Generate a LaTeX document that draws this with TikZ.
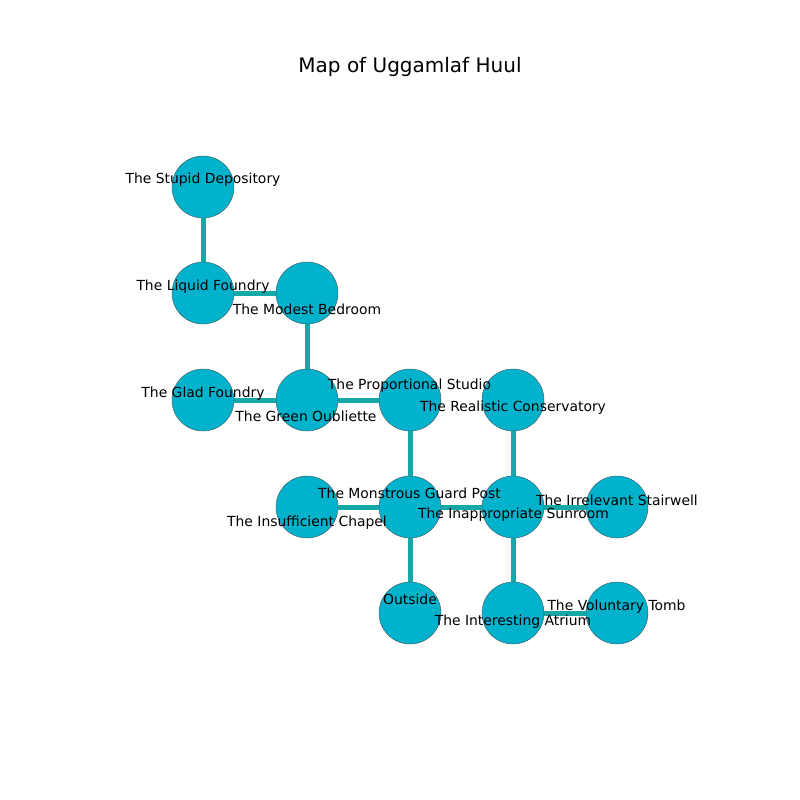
\documentclass[tikz,border=0pt]{standalone}
\usepackage{fontspec}
\setmainfont{DejaVu Sans}
\usetikzlibrary{backgrounds}
\definecolor{roomfill}{RGB}{0,178,204}
\definecolor{roomedge}{RGB}{70,100,110}
\definecolor{linkcol}{RGB}{20,168,168}
\tikzset{
  room/.style={circle,fill=roomfill,draw=roomedge,line width=0.5pt,minimum size=62pt,inner sep=0pt},
  rlabel/.style={inner sep=0pt,anchor=center,yshift=-2pt,font=\fontsize{13.9}{16}\selectfont},
  link/.style={draw=linkcol,line width=5pt}
}
\begin{document}
\begin{tikzpicture}[x=1pt,y=-1pt]
\useasboundingbox (0,0) rectangle (800,800);
\node[font=\fontsize{20}{24}\selectfont] (title) at (410,67) {Map of Uggamlaf Huul};
% rooms
\node[room] (sd) at (203,187) {};
\node[room] (lf) at (203,293) {};
\node[room] (mb) at (307,293) {};
\node[room] (gf) at (203,400) {};
\node[room] (go) at (307,400) {};
\node[room] (ps) at (410,400) {};
\node[room] (rc) at (513,400) {};
\node[room] (ic) at (307,507) {};
\node[room] (mg) at (410,507) {};
\node[room] (is) at (513,507) {};
\node[room] (ir) at (617,507) {};
\node[room] (ou) at (410,613) {};
\node[room] (ia) at (513,613) {};
\node[room] (vt) at (617,613) {};
% links
\begin{pgfonlayer}{background}
\path[link] (sd) -- (lf);
\path[link] (lf) -- (mb);
\path[link] (mb) -- (go);
\path[link] (gf) -- (go);
\path[link] (go) -- (ps);
\path[link] (ps) -- (mg);
\path[link] (rc) -- (is);
\path[link] (ic) -- (mg);
\path[link] (mg) -- (is);
\path[link] (is) -- (ir);
\path[link] (mg) -- (ou);
\path[link] (is) -- (ia);
\path[link] (ia) -- (vt);
\end{pgfonlayer}
% labels
\node[rlabel] (lsd) at (203,178) {The Stupid Depository};
\node[rlabel] (llf) at (203,285) {The Liquid Foundry};
\node[rlabel] (lmb) at (307,307) {The Modest Bedroom};
\node[rlabel] (lgf) at (203,392) {The Glad Foundry};
\node[rlabel] (lgo) at (306,414) {The Green Oubliette};
\node[rlabel] (lps) at (409.5,384) {The Proportional Studio};
\node[rlabel] (lrc) at (513,406) {The Realistic Conservatory};
\node[rlabel] (lmg) at (409.5,491) {The Monstrous Guard Post};
\node[rlabel] (lic) at (307,521) {The Insufficient Chapel};
\node[rlabel] (lis) at (513.5,513) {The Inappropriate Sunroom};
\node[rlabel] (lir) at (617,498) {The Irrelevant Stairwell};
\node[rlabel] (lou) at (410,597) {Outside};
\node[rlabel] (lia) at (513,620) {The Interesting Atrium};
\node[rlabel] (lvt) at (616.5,605) {The Voluntary Tomb};
\end{tikzpicture}
\end{document}
